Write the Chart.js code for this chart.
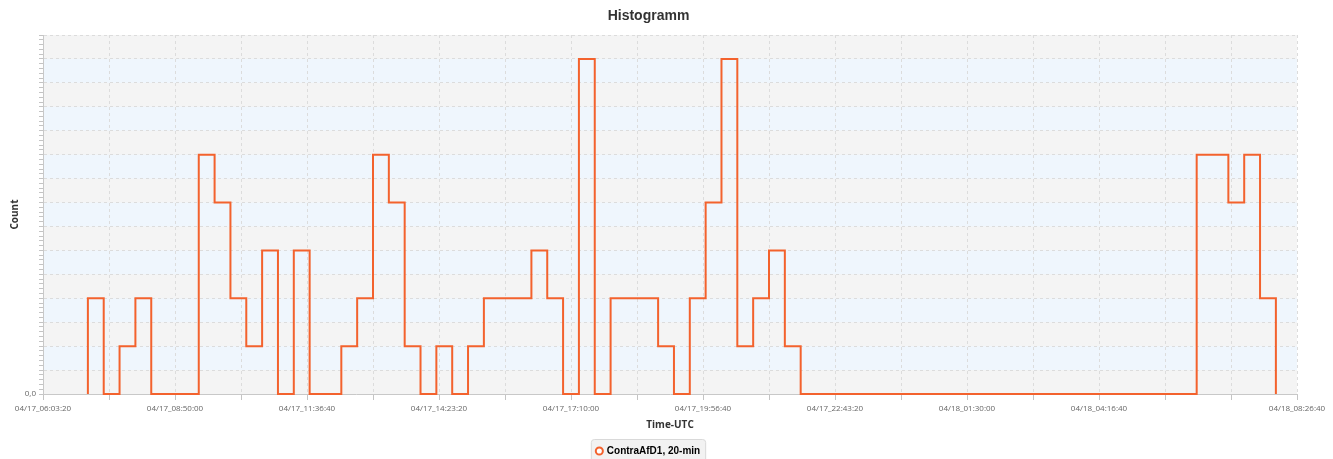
<!DOCTYPE html>
<html>
<head>
<meta charset="utf-8">
<title>Histogramm</title>
<script src="https://cdn.jsdelivr.net/npm/chart.js@4/dist/chart.umd.min.js"></script>
<style>
  html, body { margin: 0; padding: 0; background: #fff; overflow: hidden; }
  canvas { display: block; }
</style>
</head>
<body>
<canvas id="histogramm" width="1333" height="466"></canvas>
<script>
// axis range (UTC) and the 20-min bins of the series
const axisStart = '2000-04-17T06:03:20Z';
const axisEnd = '2000-04-18T08:26:40Z';
const firstBinStart = '2000-04-17T07:00:00Z';
const binMinutes = 20;
const seriesLabel = 'ContraAfD1, 20-min';
const counts = [
    2, 0, 1, 2, 0, 0, 0, 5, 4, 2, 1, 3, 0, 3, 0, 0, 1, 2, 5, 4,
    1, 0, 1, 0, 1, 2, 2, 2, 3, 2, 0, 7, 0, 2, 2, 2, 1, 0, 2, 4,
    7, 1, 2, 3, 1,
    0, 0, 0, 0, 0, 0, 0, 0, 0, 0, 0, 0, 0, 0, 0, 0, 0, 0, 0, 0, 0, 0, 0, 0, 0,
    5, 5, 4, 5, 2
];
const xTickLabels = [
    '04/17_06:03:20', '04/17_08:50:00', '04/17_11:36:40', '04/17_14:23:20',
    '04/17_17:10:00', '04/17_19:56:40', '04/17_22:43:20', '04/18_01:30:00',
    '04/18_04:16:40', '04/18_08:26:40'
];
const yTickLabels = ['0,0'];
const yMax = 7.5;

function pad(n) { return (n < 10 ? '0' : '') + n; }

function formatTime(ms) {
    var d = new Date(ms);
    return pad(d.getUTCMonth() + 1) + '/' + pad(d.getUTCDate()) + '_' +
        pad(d.getUTCHours()) + ':' + pad(d.getUTCMinutes()) + ':' + pad(d.getUTCSeconds());
}

// one point per bin at its left edge, plus the closing edge back to 0
function buildSteps() {
    var t0 = Date.parse(firstBinStart);
    var binMs = binMinutes * 60 * 1000;
    var pts = [{ x: t0, y: 0 }];
    for (var i = 0; i < counts.length; i++) {
        pts.push({ x: t0 + i * binMs, y: counts[i] });
    }
    pts.push({ x: t0 + counts.length * binMs, y: 0 });
    return pts;
}

var bandsPlugin = {
    id: 'bands',
    beforeDraw: function (chart) {
        var ctx = chart.ctx, area = chart.chartArea, y = chart.scales.y;
        ctx.save();
        ctx.fillStyle = '#f4f4f4';
        ctx.fillRect(area.left, area.top, area.right - area.left, area.bottom - area.top);
        ctx.fillStyle = '#eff6fd';
        for (var v = 0.5; v < yMax; v += 1) {
            var top = y.getPixelForValue(v + 0.5), bottom = y.getPixelForValue(v);
            ctx.fillRect(area.left, top, area.right - area.left, bottom - top);
        }
        // legend frame
        var hb = chart.legend.legendHitBoxes[0];
        if (hb) {
            var cy = hb.top + hb.height / 2;
            var x0 = hb.left - 6, x1 = hb.left + hb.width + 5;
            ctx.beginPath();
            ctx.roundRect(x0 + 0.5, cy - 12 + 0.5, x1 - x0, 24, 3);
            ctx.fillStyle = '#f2f2f2';
            ctx.fill();
            ctx.strokeStyle = '#d9d9d9';
            ctx.lineWidth = 1;
            ctx.stroke();
        }
        ctx.restore();
    }
};

function initHistogramm() {
    var canvas = document.getElementById('histogramm');
    var ctx = canvas.getContext('2d');
    var xMin = Date.parse(axisStart), xMax = Date.parse(axisEnd);

    new Chart(ctx, {
        type: 'line',
        data: {
            datasets: [{
                label: seriesLabel,
                data: buildSteps(),
                borderColor: '#f3622d',
                backgroundColor: '#ffffff',
                borderWidth: 2,
                pointRadius: 0,
                stepped: 'before',
                fill: false,
                clip: false
            }]
        },
        options: {
            responsive: false,
            animation: false,
            devicePixelRatio: 1,
            layout: { padding: { left: 0, right: 36, top: 0, bottom: 0 } },
            font: { family: "'Open Sans', 'Noto Sans', sans-serif" },
            plugins: {
                title: {
                    display: true,
                    text: 'Histogramm',
                    color: '#333',
                    font: { size: 14, weight: 'bold' },
                    padding: { top: 8, bottom: 10.2 }
                },
                legend: {
                    position: 'bottom',
                    labels: {
                        usePointStyle: true,
                        boxWidth: 5,
                        boxHeight: 5,
                        padding: 8,
                        color: '#333',
                        font: { size: 10, weight: 'bold' },
                        generateLabels: function (chart) {
                            var ds = chart.data.datasets[0];
                            return [{
                                text: ds.label,
                                fillStyle: '#ffffff',
                                strokeStyle: ds.borderColor,
                                lineWidth: 2,
                                pointStyle: 'circle',
                                hidden: false,
                                datasetIndex: 0
                            }];
                        }
                    }
                },
                tooltip: { enabled: false }
            },
            scales: {
                x: {
                    type: 'linear',
                    min: xMin,
                    max: xMax,
                    afterBuildTicks: function (scale) {
                        var ticks = [];
                        for (var t = xMin; t <= xMax; t += 5000 * 1000) ticks.push({ value: t });
                        scale.ticks = ticks;
                    },
                    afterFit: function (scale) {
                        scale.height = 44;
                        scale.paddingLeft = 0;
                        scale.paddingRight = 0;
                    },
                    ticks: {
                        autoSkip: false,
                        maxRotation: 0,
                        padding: 4,
                        color: '#666',
                        font: { size: 8 },
                        callback: function (value) {
                            var s = formatTime(value);
                            return xTickLabels.indexOf(s) >= 0 ? s : '';
                        }
                    },
                    grid: {
                        color: '#dcdcdc',
                        tickColor: '#c4c4c4',
                        tickLength: 6
                    },
                    border: { color: '#c8c8c8', dash: [3, 3] },
                    title: {
                        display: true,
                        text: 'Time-UTC',
                        color: '#333',
                        font: { size: 10, weight: 'bold' },
                        padding: { top: 5, bottom: 7 }
                    }
                },
                y: {
                    min: 0,
                    max: yMax,
                    afterBuildTicks: function (scale) {
                        var ticks = [];
                        for (var i = 0; i <= yMax * 10; i++) ticks.push({ value: i / 10 });
                        scale.ticks = ticks;
                    },
                    afterFit: function (scale) {
                        scale.width = 43;
                        scale.paddingTop = 0;
                        scale.paddingBottom = 0;
                    },
                    ticks: {
                        autoSkip: false,
                        padding: 3,
                        color: '#666',
                        font: { size: 8 },
                        callback: function (value) {
                            return value === 0 ? yTickLabels[0] : '';
                        }
                    },
                    grid: {
                        color: function (c) {
                            var v = Math.round(c.tick.value * 10);
                            return (v > 0 && v % 5 === 0) ? '#dcdcdc' : 'rgba(0,0,0,0)';
                        },
                        tickColor: '#c4c4c4',
                        tickLength: 4
                    },
                    border: { color: '#c8c8c8', dash: [3, 3] },
                    title: {
                        display: true,
                        text: 'Count',
                        color: '#333',
                        font: { size: 10, weight: 'bold' },
                        padding: { top: 9, bottom: 0 }
                    }
                }
            }
        },
        plugins: [bandsPlugin]
    });
}

document.addEventListener('DOMContentLoaded', initHistogramm);
</script>
</body>
</html>
